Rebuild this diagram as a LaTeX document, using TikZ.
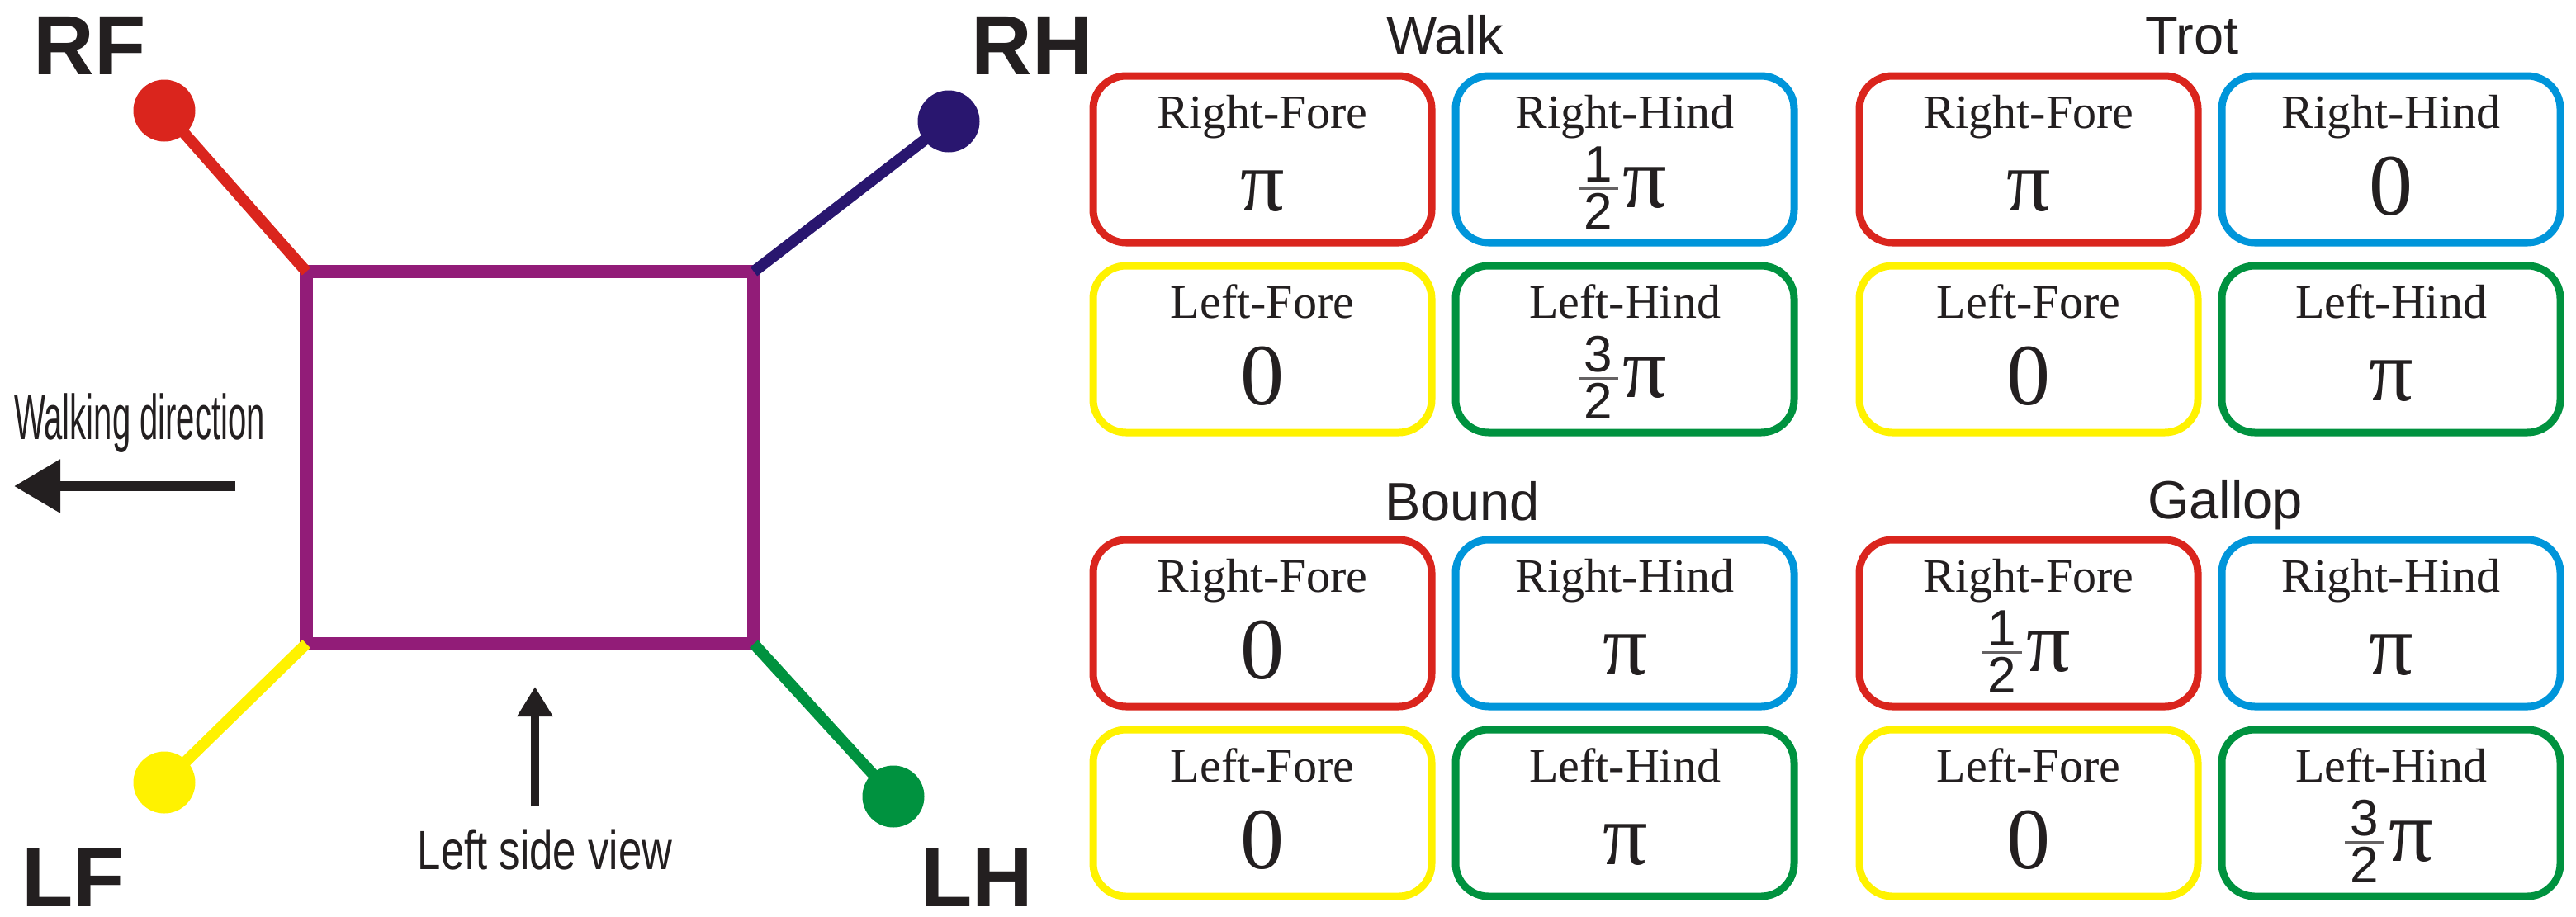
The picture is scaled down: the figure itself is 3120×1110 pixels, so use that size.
\documentclass[tikz,border=0pt]{standalone}
\usepackage{fontspec}
\setmainfont{Liberation Serif}
\newfontfamily\sansf{Liberation Sans}
\newfontfamily\narrowa[FakeStretch=0.52]{Liberation Sans}
\newfontfamily\narrowb[FakeStretch=0.76]{Liberation Sans}
\usetikzlibrary{arrows.meta}
\definecolor{ink}{HTML}{231F20}
\definecolor{legred}{HTML}{DA251D}
\definecolor{legnavy}{HTML}{29166F}
\definecolor{bodypurple}{HTML}{921C78}
\definecolor{legyellow}{HTML}{FFF200}
\definecolor{leggreen}{HTML}{00923F}
\definecolor{boxblue}{HTML}{0095DA}
\tikzset{
  gbox/.style={rectangle, rounded corners=20pt, line width=4.5pt, minimum width=205pt, minimum height=101pt, inner sep=0pt, outer sep=0pt},
  lbl/.style={anchor=base, inner sep=0pt, text=ink, font=\fontsize{29pt}{30pt}\selectfont},
  val/.style={anchor=base, inner sep=0pt, text=ink, font=\fontsize{53pt}{54pt}\selectfont},
  fdig/.style={anchor=base, inner sep=0pt, text=ink, font=\sansf\fontsize{31pt}{32pt}\selectfont},
  fbar/.style={draw=ink!70, line width=1.5pt},
  gtitle/.style={anchor=base, inner sep=0pt, text=ink, font=\sansf\fontsize{32.5pt}{34pt}\selectfont},
  biglbl/.style={anchor=base west, inner sep=0pt, text=ink, font=\sansf\bfseries\fontsize{51pt}{52pt}\selectfont},
  footdot/.style={circle, inner sep=0pt, outer sep=0pt, minimum size=37.5pt},
  leg/.style={line width=6.8pt},
  body/.style={rectangle, draw=bodypurple, line width=8pt, minimum width=271pt, minimum height=225.5pt, inner sep=0pt, outer sep=0pt},
}
\newcommand\gaitbox[5]{%
  \node[gbox, draw=#4] (#1) at (#2,#3+101) {};
  \node[lbl] (#1-lbl) at (#2,#3+63) {#5};}
\newcommand\valpi[3]{\node[val] (#1-val) at (#2,#3+163) {π};}
\newcommand\valzero[3]{\node[val] (#1-val) at (#2,#3+168) {0};}
\newcommand\valfrac[4]{%
  \node[fdig] (#1-num) at (#2-32,#3+128) {#4};
  \node[fdig] (#1-den) at (#2-32,#3+185) {2};
  \draw[fbar] (#2-56,#3+136) -- (#2-8,#3+136);
  \node[val] (#1-val) at (#2+24,#3+159) {π};}
\begin{document}
\begin{tikzpicture}[x=0.5pt, y=-0.5pt]
\fill[white] (0,0) rectangle (3120,1110);
\useasboundingbox (0,0) rectangle (3120,1110);

% body and legs
\node[body] (sq) at (642,554.5) {};
\node[footdot, fill=legred] (rf) at (199,134) {};
\node[footdot, fill=legnavy] (rh) at (1149,147) {};
\node[footdot, fill=legyellow] (lf) at (199,948) {};
\node[footdot, fill=leggreen] (lh) at (1082,965) {};
\draw[leg, legred] (rf.center) -- (sq.north west);
\draw[leg, legnavy] (rh.center) -- (sq.north east);
\draw[leg, legyellow] (lf.center) -- (sq.south west);
\draw[leg, leggreen] (lh.center) -- (sq.south east);

\node[biglbl] (rflbl) at (40,90) {RF};
\node[biglbl] (rhlbl) at (1176,90) {RH};
\node[biglbl] (lflbl) at (26,1098) {LF};
\node[biglbl] (lhlbl) at (1115,1098) {LH};

% walking direction
\node[anchor=base west, inner sep=0pt, text=ink, font=\narrowa\fontsize{38.5pt}{40pt}\selectfont] (wdlbl) at (17,532) {Walking direction};
\coordinate (wds) at (285,589);
\coordinate (wde) at (17,589);
\draw[ink, line width=6pt, -{Triangle[length=28pt,width=31pt]}] (wds) -- (wde);

% left side view
\node[anchor=base, inner sep=0pt, text=ink, font=\narrowb\fontsize{33.5pt}{35pt}\selectfont] (lsvlbl) at (660,1053) {Left side view};
\coordinate (lss) at (648,977);
\coordinate (lse) at (648,832);
\draw[ink, line width=5pt, -{Triangle[length=18pt,width=20.5pt]}] (lss) -- (lse);

% titles
\node[gtitle] (walk) at (1750,65) {Walk};
\node[gtitle] (trot) at (2655,65) {Trot};
\node[gtitle] (bound) at (1771,630) {Bound};
\node[gtitle] (gallop) at (2695,628) {Gallop};

% Walk
\gaitbox{wrf}{1529}{92}{legred}{Right-Fore}\valpi{wrf}{1529}{92}
\gaitbox{wrh}{1968}{92}{boxblue}{Right-Hind}\valfrac{wrh}{1968}{92}{1}
\gaitbox{wlf}{1529}{322}{legyellow}{Left-Fore}\valzero{wlf}{1529}{322}
\gaitbox{wlh}{1968}{322}{leggreen}{Left-Hind}\valfrac{wlh}{1968}{322}{3}
% Trot
\gaitbox{trf}{2457}{92}{legred}{Right-Fore}\valpi{trf}{2457}{92}
\gaitbox{trh}{2896}{92}{boxblue}{Right-Hind}\valzero{trh}{2896}{92}
\gaitbox{tlf}{2457}{322}{legyellow}{Left-Fore}\valzero{tlf}{2457}{322}
\gaitbox{tlh}{2896}{322}{leggreen}{Left-Hind}\valpi{tlh}{2896}{322}
% Bound
\gaitbox{brf}{1529}{654}{legred}{Right-Fore}\valzero{brf}{1529}{654}
\gaitbox{brh}{1968}{654}{boxblue}{Right-Hind}\valpi{brh}{1968}{654}
\gaitbox{blf}{1529}{884}{legyellow}{Left-Fore}\valzero{blf}{1529}{884}
\gaitbox{blh}{1968}{884}{leggreen}{Left-Hind}\valpi{blh}{1968}{884}
% Gallop
\gaitbox{grf}{2457}{654}{legred}{Right-Fore}\valfrac{grf}{2457}{654}{1}
\gaitbox{grh}{2896}{654}{boxblue}{Right-Hind}\valpi{grh}{2896}{654}
\gaitbox{glf}{2457}{884}{legyellow}{Left-Fore}\valzero{glf}{2457}{884}
\gaitbox{glh}{2896}{884}{leggreen}{Left-Hind}\valfrac{glh}{2896}{884}{3}
\end{tikzpicture}
\end{document}
